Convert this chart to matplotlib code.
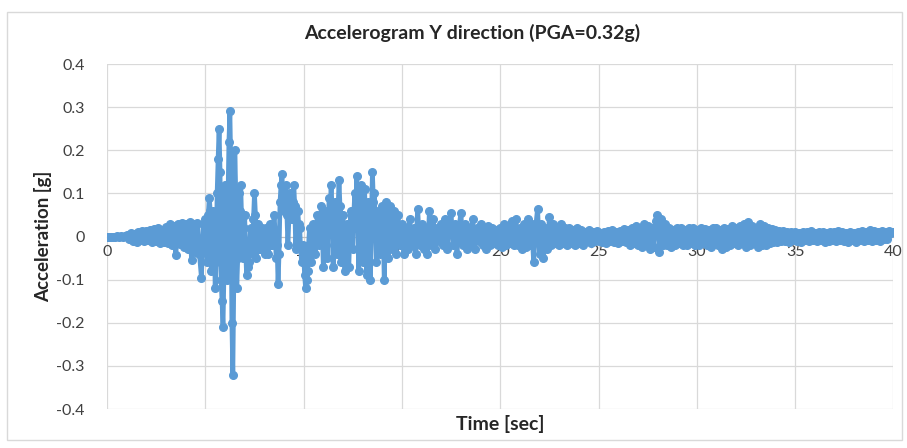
import numpy as np
import matplotlib
matplotlib.use("Agg")
import matplotlib.pyplot as plt
from matplotlib.patches import Rectangle

# Acceleration [g]
# 0 - 5 s, one value every 0.1 s
acc_00_05 = [
    0, 0, 0, 0, 0, 0.001, -0.001, 0.002, -0.002, 0.001,
    0.004, -0.006, 0.008, -0.010, 0.007, -0.012, 0.010, -0.008, 0.012, -0.010,
    0.012, -0.008, 0.015, -0.012, 0.018, -0.010, 0.020, -0.014, 0.016, -0.012,
    0.022, -0.015, 0.028, -0.020, 0.025, -0.042, 0.030, -0.018, 0.032, -0.025,
    0.030, -0.028, 0.034, -0.055, 0.028, -0.035, 0.032, -0.040, -0.095, 0.030,
]
# 5 - 15 s, one value every 0.05 s
acc_05_15 = [
    0.040, -0.030, -0.060, 0.050, 0.090, 0.060, -0.080, -0.050, 0.060, 0.030,
    -0.120, -0.060, 0.100, 0.180, 0.250, 0.150, -0.100, -0.150, -0.210, -0.080,
    0.120, 0.050, -0.100, 0.080, 0.220, 0.290, 0.150, -0.200, -0.320, -0.100,
    0.200, 0.100, -0.120, -0.050, 0.100, 0.060, 0.120, 0.030, -0.050, 0.020,
    0.050, -0.030, -0.090, -0.070, -0.060, -0.020, 0.020, -0.010, -0.040, 0.040,
    0.100, 0.050, -0.050, -0.020, 0.030, -0.030, -0.030, 0.010, 0.020, -0.020,
    -0.020, -0.040, 0.020, 0.000, -0.040, -0.010, 0.030, -0.020, -0.020, 0.020,
    0.050, 0.010, -0.050, -0.020, -0.110, -0.040, 0.080, 0.120, 0.145, 0.080,
    0.060, 0.100, 0.120, 0.050, -0.020, 0.040, 0.100, 0.060, 0.040, 0.080,
    0.120, 0.070, -0.030, 0.020, 0.060, 0.030, 0.020, -0.030, -0.060, -0.020,
    -0.040, -0.090, -0.120, -0.100, -0.080, -0.020, 0.020, -0.030, -0.060, 0.000,
    0.030, -0.010, -0.040, 0.020, 0.050, 0.010, -0.020, 0.030, 0.070, 0.020,
    -0.070, -0.020, 0.060, 0.020, -0.050, 0.040, 0.090, 0.050, 0.120, 0.030,
    -0.070, -0.020, 0.080, 0.030, -0.040, 0.060, 0.130, 0.070, -0.060, 0.010,
    0.050, 0.000, -0.080, -0.020, 0.030, -0.030, -0.070, 0.010, 0.060, 0.020,
    -0.030, 0.050, 0.100, 0.060, 0.140, 0.050, -0.080, 0.020, 0.120, 0.040,
    -0.060, 0.030, 0.110, 0.040, -0.090, 0.010, 0.080, 0.020, -0.100, 0.040,
    0.150, 0.080, 0.100, 0.020, -0.060, 0.010, 0.060, 0.010, -0.040, 0.020,
    0.070, 0.020, -0.100, -0.020, 0.080, 0.030, -0.050, 0.010, 0.070, 0.030,
    -0.030, 0.020, 0.060, 0.010, -0.040, 0.010, 0.050, 0.020, -0.020, 0.010,
]
# 15 - 40 s, one value every 0.1 s
acc_15_20 = [
    0.030, -0.040, 0.020, -0.030, 0.040, -0.020, 0.020, -0.040, 0.065, -0.020,
    0.030, -0.030, 0.020, -0.040, 0.060, -0.020, 0.040, -0.030, 0.020, -0.010,
    0.030, -0.020, 0.040, -0.030, 0.030, 0.055, -0.020, 0.030, -0.040, 0.020,
    0.055, -0.020, 0.030, -0.030, 0.020, -0.020, 0.040, -0.030, 0.020, -0.010,
    0.030, -0.020, 0.020, -0.030, 0.025, -0.020, 0.020, -0.015, 0.015, -0.020,
]
acc_20_30 = [
    0.020, -0.025, 0.030, -0.020, 0.025, -0.015, 0.035, -0.020, 0.040, -0.020,
    0.020, -0.030, 0.030, -0.025, 0.040, -0.020, 0.030, -0.060, 0.020, 0.065,
    -0.040, 0.030, -0.050, 0.020, -0.030, 0.045, -0.020, 0.030, -0.015, 0.020,
    -0.020, 0.030, -0.015, 0.020, -0.020, 0.020, -0.015, 0.015, -0.020, 0.020,
    -0.015, 0.015, -0.020, 0.010, -0.010, 0.015, -0.015, 0.010, -0.010, 0.012,
    -0.010, 0.008, -0.012, 0.010, -0.015, 0.012, -0.010, 0.015, -0.012, 0.010,
    -0.015, 0.012, -0.010, 0.018, -0.012, 0.015, -0.020, 0.020, -0.015, 0.025,
    -0.020, 0.020, -0.025, 0.030, -0.020, 0.025, -0.030, 0.020, -0.025, 0.035,
    0.050, -0.035, 0.040, -0.020, 0.030, -0.020, 0.020, -0.025, 0.015, -0.020,
    0.020, -0.015, 0.020, -0.020, 0.015, -0.020, 0.020, -0.015, 0.020, -0.020,
]
acc_30_40 = [
    0.015, -0.020, 0.020, -0.015, 0.018, -0.020, 0.015, -0.025, 0.020, -0.015,
    0.020, -0.020, 0.015, -0.030, 0.020, -0.025, 0.018, -0.020, 0.025, -0.015,
    0.020, -0.020, 0.025, -0.015, 0.030, -0.025, 0.034, -0.020, 0.025, -0.015,
    0.020, -0.025, 0.030, -0.020, 0.025, -0.020, 0.020, -0.015, 0.018, -0.012,
    0.015, -0.012, 0.012, -0.010, 0.012, -0.010, 0.010, -0.012, 0.010, -0.008,
    0.010, -0.010, 0.008, -0.012, 0.010, -0.008, 0.010, -0.010, 0.012, -0.008,
    0.008, -0.010, 0.010, -0.008, 0.010, -0.012, 0.008, -0.010, 0.010, -0.008,
    0.010, -0.010, 0.012, -0.008, 0.010, -0.010, 0.008, -0.012, 0.010, -0.008,
    0.008, -0.012, 0.010, -0.008, 0.012, -0.010, 0.010, -0.008, 0.015, -0.010,
    0.012, -0.008, 0.010, -0.010, 0.012, -0.005, 0.010, -0.006, 0.012, 0.008,
    0.010,
]
x_ticks = [0, 5, 10, 15, 20, 25, 30, 35, 40]
y_ticks = [-0.4, -0.3, -0.2, -0.1, 0, 0.1, 0.2, 0.3, 0.4]
y_tick_labels = ["-0.4", "-0.3", "-0.2", "-0.1", "0", "0.1", "0.2", "0.3", "0.4"]
title = "Accelerogram Y direction (PGA=0.32g)"
x_label = "Time [sec]"
y_label = "Acceleration [g]"

late = acc_15_20 + acc_20_30 + acc_30_40
time = np.concatenate([
    np.arange(len(acc_00_05)) * 0.1,
    5.0 + np.arange(len(acc_05_15)) * 0.05,
    15.0 + np.arange(len(late)) * 0.1,
])
acc = np.array(acc_00_05 + acc_05_15 + late)

plt.rcParams["font.family"] = ["Lato", "DejaVu Sans"]
fig = plt.figure(figsize=(9.07, 4.48), dpi=100)
ax = fig.add_axes([0.118, 0.087, 0.867, 0.770])

blue = "#5B9BD5"
ax.plot(time, acc, color=blue, lw=3.4, marker="o", ms=5.5, mec=blue, mfc=blue,
        solid_joinstyle="round", zorder=3)

ax.set_xlim(0, 40)
ax.set_ylim(-0.4, 0.4)
ax.set_xticks(x_ticks)
ax.set_xticklabels([str(v) for v in x_ticks])
ax.set_yticks(y_ticks)
ax.set_yticklabels(y_tick_labels)
ax.grid(True, color="#D9D9D9", lw=0.9)
ax.set_axisbelow(True)
for s in ["top", "right", "left"]:
    ax.spines[s].set_visible(False)
ax.spines["bottom"].set_position(("data", 0))
ax.spines["bottom"].set_color("#BFBFBF")
ax.tick_params(axis="both", length=0, labelsize=11.5, labelcolor="#404040")
ax.tick_params(axis="x", pad=6)
ax.tick_params(axis="y", pad=16)

fig.text(0.521, 0.926, title, ha="center", va="center", fontsize=14,
         fontweight="bold", color="#262626")
fig.text(0.551, 0.053, x_label, ha="center", va="center", fontsize=14,
         fontweight="bold", color="#262626")
fig.text(0.047, 0.472, y_label, ha="center", va="center", rotation=90,
         fontsize=13.5, fontweight="bold", color="#262626")

fig.patches.append(Rectangle((0.008, 0.018), 0.986, 0.955, transform=fig.transFigure,
                             fill=False, edgecolor="#D9D9D9", lw=1.0))

fig.savefig("out.png", dpi=100, facecolor="white")
